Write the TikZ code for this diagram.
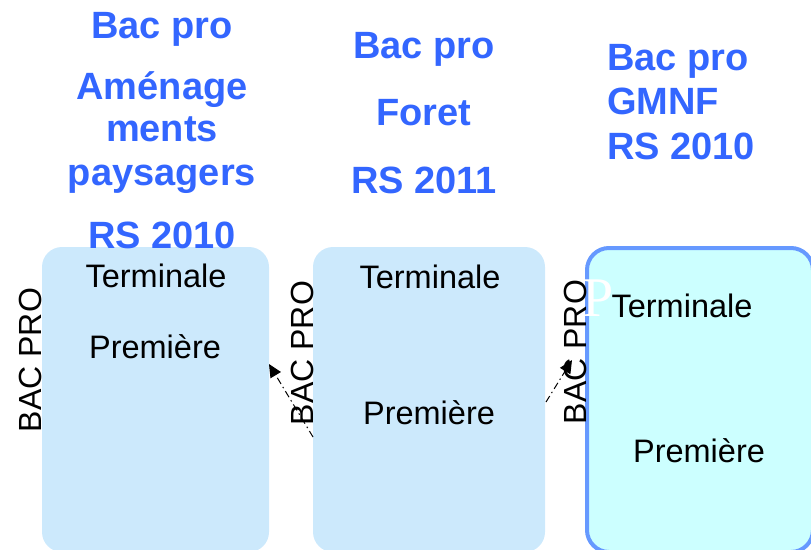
\documentclass[tikz,border=0pt]{standalone}
\usepackage{fontspec}
\setmainfont{Liberation Sans}
\newfontfamily\serifP{Liberation Serif}
\usetikzlibrary{arrows.meta}
\definecolor{boxblue}{HTML}{CCE9FC}
\definecolor{boxcyan}{HTML}{CCFFFF}
\definecolor{edgeblue}{HTML}{6699FF}
\definecolor{titleblue}{HTML}{3366FF}
\tikzset{
  panel/.style={fill=boxblue, rounded corners=20pt},
  panelthree/.style={fill=boxcyan, draw=edgeblue, line width=4pt, rounded corners=22pt},
  title/.style={font=\fontsize{38}{42}\selectfont\bfseries, text=titleblue, inner sep=0pt},
  lvl/.style={font=\fontsize{32.5}{36}\selectfont, inner sep=0pt},
  side/.style={font=\fontsize{32}{36}\selectfont, inner sep=0pt, rotate=90},
  link/.style={dash pattern=on 7pt off 3.5pt on 1.5pt off 3.5pt, line width=1pt, -{Triangle[length=13pt,width=12pt]}}
}
\begin{document}
\begin{tikzpicture}[x=1pt,y=-1pt]
\useasboundingbox (0,0) rectangle (811,549);
% boxes
\path[panel] (42,247) rectangle (269,552);
\path[panel] (313,247) rectangle (545,552);
\path[panelthree] (587,248) rectangle (813,552);
% titles column 1
\node[title] (t1a) at (162,29) {Bac pro};
\node[title] (t1b) at (162,90) {Aménage};
\node[title] (t1c) at (162,129) {ments};
\node[title] (t1d) at (162,179) {paysagers};
\node[title] (t1e) at (162,235) {RS 2010};
% titles column 2
\node[title] (t2a) at (424,49) {Bac pro};
\node[title] (t2b) at (424,113) {Foret};
\node[title] (t2c) at (424,180) {RS 2011};
% titles column 3
\node[title, anchor=west] (t3a) at (607,61) {Bac pro};
\node[title, anchor=west] (t3b) at (607,101) {GMNF};
\node[title, anchor=west] (t3c) at (607,146) {RS 2010};
% levels
\node[lvl] (term1) at (156,276) {Terminale};
\node[lvl] (prem1) at (155,347) {Première};
\node[lvl] (term2) at (430,277) {Terminale};
\node[lvl] (prem2) at (429,413) {Première};
\node[lvl] (term3) at (682,306) {Terminale};
\node[lvl] (prem3) at (699,451) {Première};
% side labels
\node[side] (bp1) at (30,360) {BAC PRO};
\node[side] (bp2) at (302,353) {BAC PRO};
\node[side] (bp3) at (575,352) {BAC PRO};
% stray white letter
\node[font=\serifP\fontsize{56}{60}\selectfont, text=white, inner sep=0pt] (wp) at (598,298) {P};
% links
\coordinate (s1) at (313,437);
\coordinate (e1) at (269,364);
\coordinate (s2) at (546,402);
\coordinate (e2) at (572,360);
\draw[link] (s1) -- (e1);
\draw[link] (s2) -- (e2);
\end{tikzpicture}
\end{document}
